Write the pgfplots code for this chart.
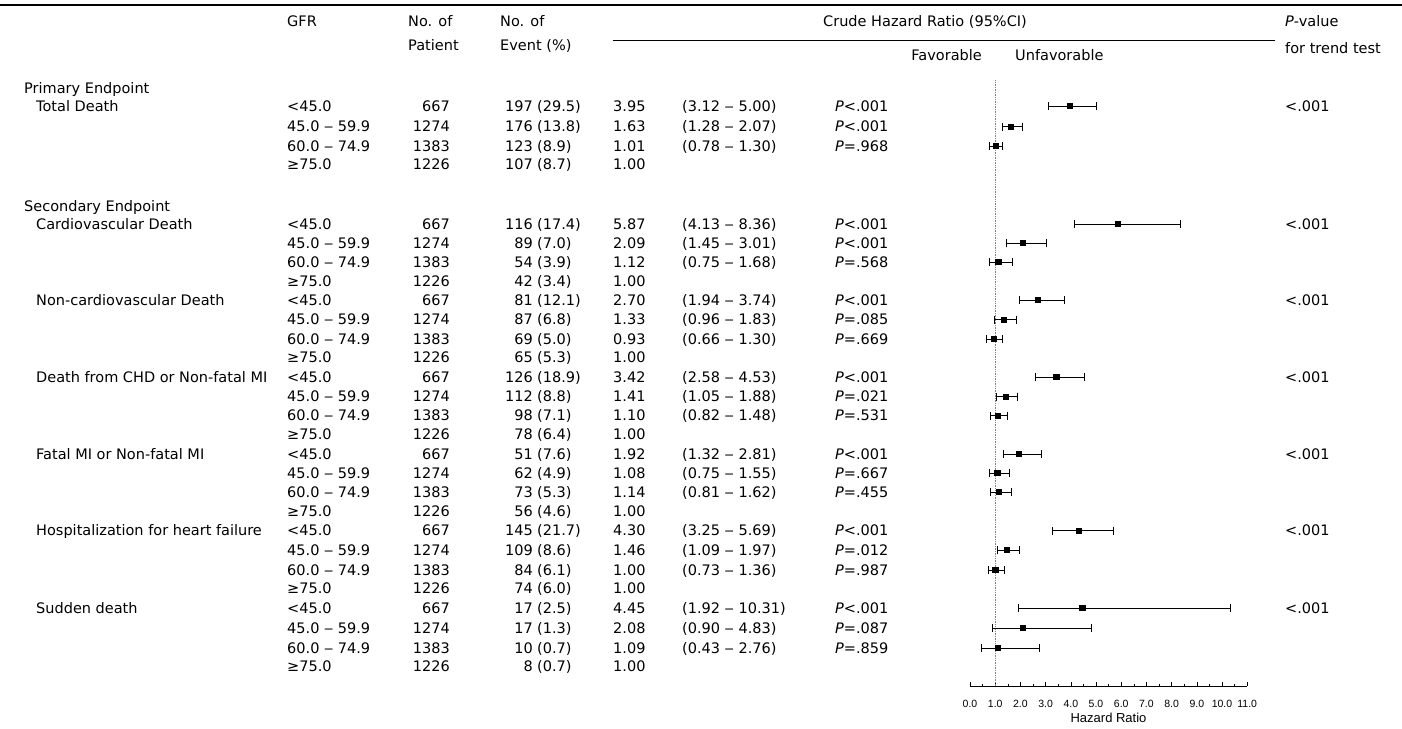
\documentclass[border=0pt]{standalone}
\usepackage{fontspec}
\setmainfont{DejaVu Sans}
\newfontfamily\tickfont{Liberation Sans}
\usepackage{pgfplots}
\usepackage{pgfplotstable}
\pgfplotsset{compat=1.18}

% forest data: y = -(row centre in px)
\pgfplotstableread{
hr    lo    hi     y
3.95  3.12  5.00   -106
1.63  1.28  2.07   -126.5
1.01  0.78  1.30   -146
5.87  4.13  8.36   -224
2.09  1.45  3.01   -243
1.12  0.75  1.68   -262
2.70  1.94  3.74   -300
1.33  0.96  1.83   -319.5
0.93  0.66  1.30   -339
3.42  2.58  4.53   -377
1.41  1.05  1.88   -396.5
1.10  0.82  1.48   -415.5
1.92  1.32  2.81   -454
1.08  0.75  1.55   -473
1.14  0.81  1.62   -492
4.30  3.25  5.69   -530.5
1.46  1.09  1.97   -550
1.00  0.73  1.36   -570
4.45  1.92  10.31  -608
2.08  0.90  4.83   -628
1.09  0.43  2.76   -648
}\forest

\tikzset{
  L/.style={anchor=base west, inner sep=0pt, yshift=-5pt},
  Rt/.style={anchor=base east, inner sep=0pt, yshift=-5pt},
  H/.style={anchor=base west, inner sep=0pt},
}
\newcommand{\row}[8]{%
  \node[L]  at (287pt,-#1pt) {#2};
  \node[Rt] at (450pt,-#1pt) {#3};
  \node[Rt] at (533pt,-#1pt) {#4};
  \node[L]  at (537pt,-#1pt) {(#5)};
  \node[L]  at (613pt,-#1pt) {#6};
  \node[L]  at (682pt,-#1pt) {#7};
  \node[L]  at (835pt,-#1pt) {#8};
}
\newcommand{\lab}[3]{\node[L] at (#1pt,-#2pt) {#3};}
\newcommand{\Pl}{\textit{P}<.001}

\begin{document}
\fontsize{14.5}{17}\selectfont
\begin{tikzpicture}
\useasboundingbox (0pt,0pt) rectangle (1402pt,-728pt);

% rules
\draw[line width=1.1pt] (0pt,-5pt) -- (1402pt,-5pt);
\draw[line width=0.7pt] (613pt,-40pt) -- (1275pt,-40pt);

% header
\node[H] at (287pt,-26pt) {GFR};
\node[H] at (408pt,-26pt) {No. of};
\node[H] at (408pt,-50pt) {Patient};
\node[H] at (500pt,-26pt) {No. of};
\node[H] at (500pt,-50pt) {Event (\%)};
\node[anchor=base, inner sep=0pt] at (925pt,-26pt) {Crude Hazard Ratio (95\%CI)};
\node[H] at (1285pt,-26pt) {\textit{P}-value};
\node[H] at (1285pt,-53pt) {for trend test};
\node[anchor=base east, inner sep=0pt] at (982pt,-60pt) {Favorable};
\node[H] at (1015pt,-60pt) {Unfavorable};

% sections
\lab{24}{88}{Primary Endpoint}
\lab{36}{106}{Total Death}
\lab{24}{206}{Secondary Endpoint}
\lab{36}{224}{Cardiovascular Death}
\lab{36}{300}{Non-cardiovascular Death}
\lab{36}{377}{Death from CHD or Non-fatal MI}
\lab{36}{454}{Fatal MI or Non-fatal MI}
\lab{36}{530.5}{Hospitalization for heart failure}
\lab{36}{608}{Sudden death}

% rows
\row{106}{<45.0}{667}{197}{29.5}{3.95}{(3.12 ‒ 5.00)}{\Pl}
\row{126.5}{45.0 ‒ 59.9}{1274}{176}{13.8}{1.63}{(1.28 ‒ 2.07)}{\Pl}
\row{146}{60.0 ‒ 74.9}{1383}{123}{8.9}{1.01}{(0.78 ‒ 1.30)}{\textit{P}=.968}
\row{164.5}{≥75.0}{1226}{107}{8.7}{1.00}{}{}

\row{224}{<45.0}{667}{116}{17.4}{5.87}{(4.13 ‒ 8.36)}{\Pl}
\row{243}{45.0 ‒ 59.9}{1274}{89}{7.0}{2.09}{(1.45 ‒ 3.01)}{\Pl}
\row{262}{60.0 ‒ 74.9}{1383}{54}{3.9}{1.12}{(0.75 ‒ 1.68)}{\textit{P}=.568}
\row{281}{≥75.0}{1226}{42}{3.4}{1.00}{}{}

\row{300}{<45.0}{667}{81}{12.1}{2.70}{(1.94 ‒ 3.74)}{\Pl}
\row{319.5}{45.0 ‒ 59.9}{1274}{87}{6.8}{1.33}{(0.96 ‒ 1.83)}{\textit{P}=.085}
\row{339}{60.0 ‒ 74.9}{1383}{69}{5.0}{0.93}{(0.66 ‒ 1.30)}{\textit{P}=.669}
\row{357.5}{≥75.0}{1226}{65}{5.3}{1.00}{}{}

\row{377}{<45.0}{667}{126}{18.9}{3.42}{(2.58 ‒ 4.53)}{\Pl}
\row{396.5}{45.0 ‒ 59.9}{1274}{112}{8.8}{1.41}{(1.05 ‒ 1.88)}{\textit{P}=.021}
\row{415.5}{60.0 ‒ 74.9}{1383}{98}{7.1}{1.10}{(0.82 ‒ 1.48)}{\textit{P}=.531}
\row{434}{≥75.0}{1226}{78}{6.4}{1.00}{}{}

\row{454}{<45.0}{667}{51}{7.6}{1.92}{(1.32 ‒ 2.81)}{\Pl}
\row{473}{45.0 ‒ 59.9}{1274}{62}{4.9}{1.08}{(0.75 ‒ 1.55)}{\textit{P}=.667}
\row{492}{60.0 ‒ 74.9}{1383}{73}{5.3}{1.14}{(0.81 ‒ 1.62)}{\textit{P}=.455}
\row{511}{≥75.0}{1226}{56}{4.6}{1.00}{}{}

\row{530.5}{<45.0}{667}{145}{21.7}{4.30}{(3.25 ‒ 5.69)}{\Pl}
\row{550}{45.0 ‒ 59.9}{1274}{109}{8.6}{1.46}{(1.09 ‒ 1.97)}{\textit{P}=.012}
\row{570}{60.0 ‒ 74.9}{1383}{84}{6.1}{1.00}{(0.73 ‒ 1.36)}{\textit{P}=.987}
\row{588}{≥75.0}{1226}{74}{6.0}{1.00}{}{}

\row{608}{<45.0}{667}{17}{2.5}{4.45}{(1.92 ‒ 10.31)}{\Pl}
\row{628}{45.0 ‒ 59.9}{1274}{17}{1.3}{2.08}{(0.90 ‒ 4.83)}{\textit{P}=.087}
\row{648}{60.0 ‒ 74.9}{1383}{10}{0.7}{1.09}{(0.43 ‒ 2.76)}{\textit{P}=.859}
\row{666}{≥75.0}{1226}{8}{0.7}{1.00}{}{}

% trend p
\lab{1285}{106}{<.001}
\lab{1285}{224}{<.001}
\lab{1285}{300}{<.001}
\lab{1285}{377}{<.001}
\lab{1285}{454}{<.001}
\lab{1285}{530.5}{<.001}
\lab{1285}{608}{<.001}

\begin{axis}[
  at={(970pt,-686pt)}, anchor=south west,
  x=25.2pt, y=1pt,
  xmin=0, xmax=11, ymin=-686, ymax=-78,
  axis x line*=bottom, hide y axis,
  x axis line style={-, line width=0.8pt},
  xtick={0,1,...,11},
  xticklabels={0.0,1.0,2.0,3.0,4.0,5.0,6.0,7.0,8.0,9.0,10.0,11.0},
  minor x tick num=1,
  xtick pos=bottom, tick align=inside,
  major tick length=4pt, minor tick length=2.5pt,
  tick style={black, line width=0.6pt},
  xticklabel style={font=\tickfont\fontsize{10.5}{12}\selectfont, yshift=-9pt},
  clip=false,
]
\addplot[gray, densely dotted, line width=0.7pt] coordinates {(1,-686) (1,-80)};
\addplot[only marks, mark=square*, mark size=2.6pt, black,
  error bars/.cd, x dir=both, x explicit, error mark=|,
  error bar style={line width=0.6pt, black},
  error mark options={mark size=4pt, line width=0.6pt, black}]
  table[x=hr, y=y, x error plus expr=\thisrow{hi}-\thisrow{hr}, x error minus expr=\thisrow{hr}-\thisrow{lo}] {\forest};
\end{axis}
\node[font=\tickfont\fontsize{13}{15}\selectfont] at (1108.5pt,-718pt) {Hazard Ratio};
\end{tikzpicture}
\end{document}
